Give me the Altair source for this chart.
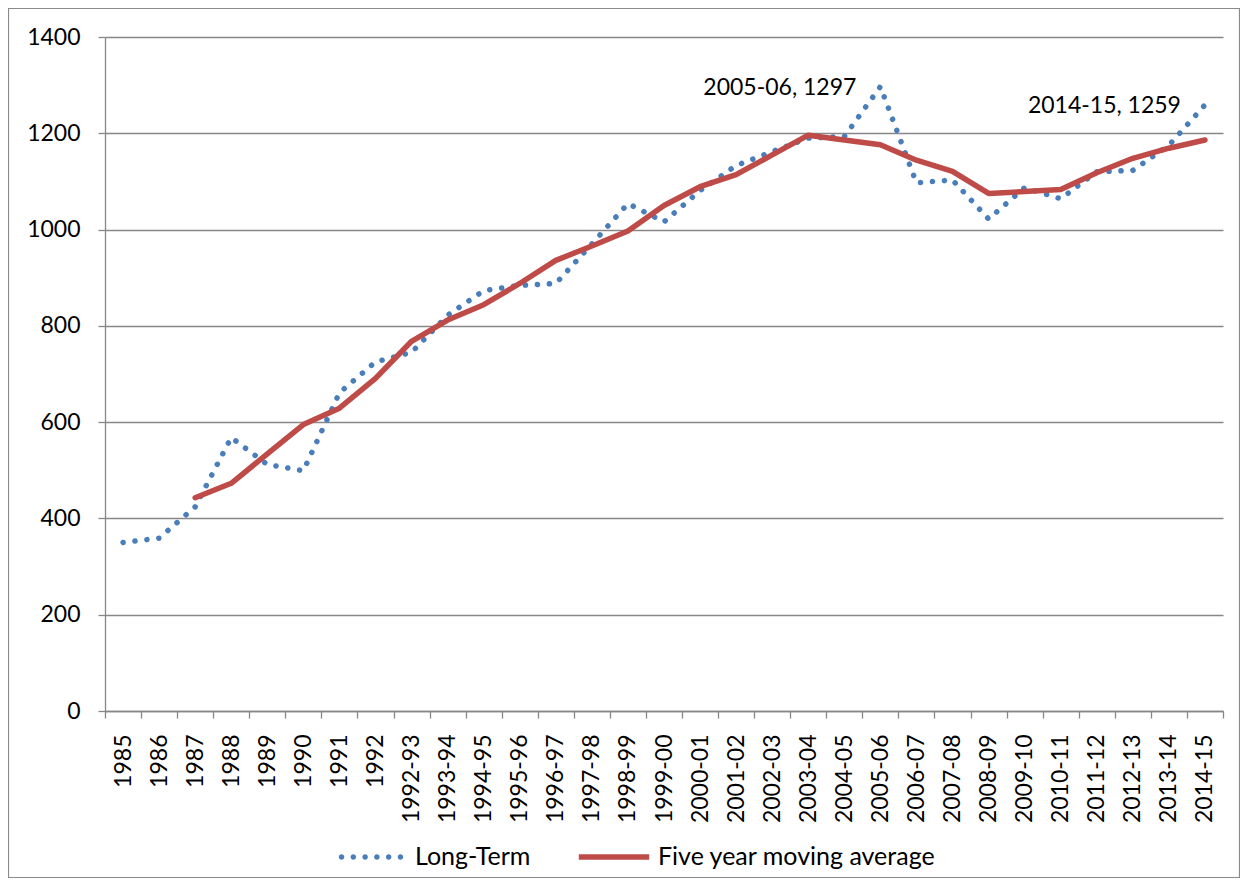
import altair as alt
import pandas as pd

categories = ["1985", "1986", "1987", "1988", "1989", "1990", "1991", "1992",
              "1992-93", "1993-94", "1994-95", "1995-96", "1996-97", "1997-98",
              "1998-99", "1999-00", "2000-01", "2001-02", "2002-03", "2003-04",
              "2004-05", "2005-06", "2006-07", "2007-08", "2008-09", "2009-10",
              "2010-11", "2011-12", "2012-13", "2013-14", "2014-15"]

long_term = [350, 359, 424, 568, 512, 499, 661, 725, 745, 822, 873, 884, 888,
             970, 1054, 1016, 1081, 1133, 1162, 1190, 1193, 1297, 1097, 1103,
             1022, 1087, 1064, 1120, 1123, 1175, 1259]

# five year moving average starts at 1987
moving_avg_start = 2
moving_avg = [443, 473, 534, 595, 629, 691, 768, 812, 844, 888, 936, 966, 997,
              1050, 1089, 1114, 1155, 1196, 1186, 1176, 1144, 1121, 1075, 1079,
              1083, 1118, 1148, 1169, 1186]

annotated = ["2005-06", "2014-15"]

series_names = ["Long-Term", "Five year moving average"]
series_colors = ["#4A7EBB", "#BE4B48"]


def dots_path(n=6, r=0.086):
    parts = []
    for i in range(n):
        cx = -0.92 + i * (1.84 / (n - 1))
        parts.append(f"M{cx - r:.3f},0a{r},{r} 0 1,0 {2 * r:.3f},0a{r},{r} 0 1,0 {-2 * r:.3f},0Z")
    return "".join(parts)


legend_shapes = [dots_path(), "M-1.1,-0.086H1.1V0.086H-1.1Z"]

df_lt = pd.DataFrame({"cat": categories, "value": long_term, "series": series_names[0]})
df_ma = pd.DataFrame({"cat": categories[moving_avg_start:], "value": moving_avg,
                      "series": series_names[1]})
df_all = pd.concat([df_lt, df_ma], ignore_index=True)
df_ann = df_lt[df_lt["cat"].isin(annotated)].copy()
df_ann["label"] = df_ann["cat"] + ", " + df_ann["value"].astype(str)

W, H = 1118, 674
PAD_L, PAD_T, PAD_R, PAD_B = 97, 29, 17, 167
FONT = "Lato"
GRID = "#878787"

x_enc = alt.X("cat:N", sort=categories,
              scale=alt.Scale(type="band", paddingInner=0, paddingOuter=0),
              bandPosition=0.5,
              axis=alt.Axis(title=None, labelAngle=270, tickBand="extent",
                            tickSize=7, labelPadding=16, grid=False,
                            labelFont=FONT, labelFontSize=23, labelColor="black",
                            domainColor=GRID, tickColor=GRID, domainWidth=1.3,
                            tickWidth=1.3))
y_enc = alt.Y("value:Q", scale=alt.Scale(domain=[0, 1400], nice=False),
              axis=alt.Axis(title=None, values=list(range(0, 1401, 200)), format="d",
                            tickSize=7, labelPadding=18, gridColor=GRID,
                            gridWidth=1.3, domainColor=GRID, tickColor=GRID,
                            domainWidth=1.3, tickWidth=1.3, labelFont=FONT,
                            labelFontSize=23, labelColor="black"))

leg = alt.Legend(title=None, orient="none", legendX=234, legendY=788,
                 direction="horizontal", symbolSize=4096, symbolStrokeWidth=0,
                 labelFont=FONT, labelFontSize=25, labelColor="black",
                 labelOffset=12, columnPadding=47, padding=0, labelLimit=0)

line_lt = alt.Chart(df_lt).mark_line(color=series_colors[0], strokeWidth=5.5,
                                     strokeDash=[0.1, 11.9], strokeCap="round",
                                     strokeJoin="round").encode(x=x_enc, y=y_enc)
line_ma = alt.Chart(df_ma).mark_line(color=series_colors[1], strokeWidth=5.5,
                                     strokeCap="round", strokeJoin="round").encode(
    x=x_enc, y=y_enc)

legend_layer = alt.Chart(df_all).transform_filter("false").mark_point(
    filled=True, opacity=1).encode(
    x=x_enc, y=y_enc,
    color=alt.Color("series:N", scale=alt.Scale(domain=series_names, range=series_colors),
                    legend=leg),
    shape=alt.Shape("series:N", scale=alt.Scale(domain=series_names, range=legend_shapes),
                    legend=leg))

text = alt.Chart(df_ann).mark_text(align="right", baseline="middle", dx=-24, dy=1,
                                   font=FONT, fontSize=23, color="black").encode(
    x=x_enc, y=y_enc, text="label:N")

border = alt.Chart(pd.DataFrame({"a": [0]})).mark_rect(
    fillOpacity=0, stroke="#8a8a8a", strokeWidth=1.2).encode(
    x=alt.value(-PAD_L + 0.5), x2=alt.value(W + PAD_R - 0.5),
    y=alt.value(-PAD_T + 0.5), y2=alt.value(H + PAD_B - 0.5))

chart = alt.layer(border, line_lt, line_ma, legend_layer, text).properties(
    width=W, height=H,
    autosize=alt.AutoSizeParams(type="none"),
    padding={"left": PAD_L, "top": PAD_T, "right": PAD_R, "bottom": PAD_B},
    background="white",
).configure_view(stroke=None)

chart.save("out.html", embed_options={"renderer": "svg", "actions": False})
